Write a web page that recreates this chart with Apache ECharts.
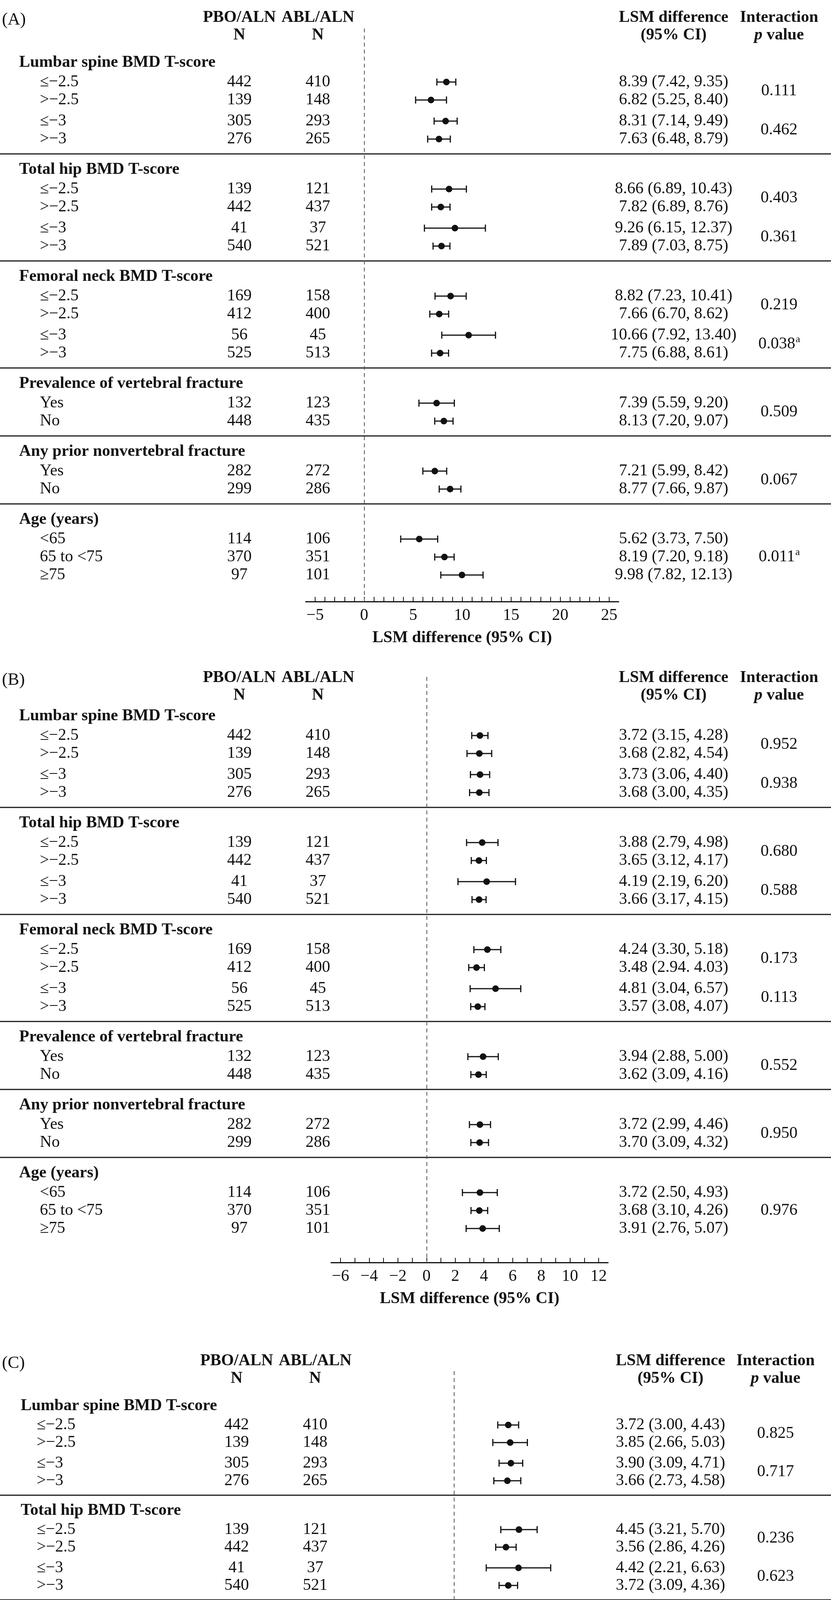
<!DOCTYPE html>
<html><head><meta charset="utf-8">
<script src="https://cdn.jsdelivr.net/npm/echarts@6.0.0/dist/echarts.min.js"></script>
<style>html,body{margin:0;padding:0;background:#fff;} #c{width:2128px;height:5125px;}</style>
</head><body><div id="c"></div>
<script>
// ---------------- DATA ----------------
const groups = ['Lumbar spine BMD T-score', 'Total hip BMD T-score', 'Femoral neck BMD T-score',
  'Prevalence of vertebral fracture', 'Any prior nonvertebral fracture', 'Age (years)'];
const subgroups = [
  ['≤−2.5', '>−2.5', '≤−3', '>−3'],
  ['≤−2.5', '>−2.5', '≤−3', '>−3'],
  ['≤−2.5', '>−2.5', '≤−3', '>−3'],
  ['Yes', 'No'],
  ['Yes', 'No'],
  ['<65', '65 to <75', '≥75']
];
const nPBO = [442, 139, 305, 276, 139, 442, 41, 540, 169, 412, 56, 525, 132, 448, 282, 299, 114, 370, 97];
const nABL = [410, 148, 293, 265, 121, 437, 37, 521, 158, 400, 45, 513, 123, 435, 272, 286, 106, 351, 101];

// Panel A
const estA = [8.39, 6.82, 8.31, 7.63, 8.66, 7.82, 9.26, 7.89, 8.82, 7.66, 10.66, 7.75, 7.39, 8.13, 7.21, 8.77, 5.62, 8.19, 9.98];
const loA  = [7.42, 5.25, 7.14, 6.48, 6.89, 6.89, 6.15, 7.03, 7.23, 6.70, 7.92, 6.88, 5.59, 7.20, 5.99, 7.66, 3.73, 7.20, 7.82];
const hiA  = [9.35, 8.40, 9.49, 8.79, 10.43, 8.76, 12.37, 8.75, 10.41, 8.62, 13.40, 8.61, 9.20, 9.07, 8.42, 9.87, 7.50, 9.18, 12.13];
const pA   = ['0.111', '0.462', '0.403', '0.361', '0.219', '0.038a', '0.509', '0.067', '0.011a'];
const ticksA = [-5, 0, 5, 10, 15, 20, 25];

// Panel B
const estB = [3.72, 3.68, 3.73, 3.68, 3.88, 3.65, 4.19, 3.66, 4.24, 3.48, 4.81, 3.57, 3.94, 3.62, 3.72, 3.70, 3.72, 3.68, 3.91];
const loB  = [3.15, 2.82, 3.06, 3.00, 2.79, 3.12, 2.19, 3.17, 3.30, 2.94, 3.04, 3.08, 2.88, 3.09, 2.99, 3.09, 2.50, 3.10, 2.76];
const hiB  = [4.28, 4.54, 4.40, 4.35, 4.98, 4.17, 6.20, 4.15, 5.18, 4.03, 6.57, 4.07, 5.00, 4.16, 4.46, 4.32, 4.93, 4.26, 5.07];
const pB   = ['0.952', '0.938', '0.680', '0.588', '0.173', '0.113', '0.552', '0.950', '0.976'];
const ticksB = [-6, -4, -2, 0, 2, 4, 6, 8, 10, 12];

// Panel C
const estC = [3.72, 3.85, 3.90, 3.66, 4.45, 3.56, 4.42, 3.72, 4.33, 3.58, 5.84, 3.55, 3.33, 3.90, 3.54, 4.00, 3.37, 3.96, 3.80];
const loC  = [3.00, 2.66, 3.09, 2.73, 3.21, 2.86, 2.21, 3.09, 3.19, 2.86, 3.56, 2.92, 1.92, 3.23, 2.64, 3.17, 1.92, 3.19, 2.39];
const hiC  = [4.43, 5.03, 4.71, 4.58, 5.70, 4.26, 6.63, 4.36, 5.47, 4.30, 8.13, 4.18, 4.74, 4.58, 4.43, 4.83, 4.82, 4.73, 5.21];
const pC   = ['0.825', '0.717', '0.236', '0.623', '0.361', '0.021a', '0.444', '0.459', '0.711'];
const ticksC = [-8, -6, -4, -2, 0, 2, 4, 6, 8, 10];

// printed CI strings that differ from the plain formatting (as printed in the figure)
const ciTextFixB = {9: '3.48 (2.94. 4.03)'};
const ciTextFixC = {12: '3.33 (1.92, 4.28)'};

// ---------------- STYLE / LAYOUT ----------------
const FONT = '"Liberation Serif","Times New Roman",Times,serif';
const FS = 42;
const INK = '#111';
const W = 2128;

const panels = [
  {tag: '(A)', est: estA, lo: loA, hi: hiA, p: pA, ticks: ticksA, fix: {},
   headerY: 45, n2g: 70, k: 1, axisGap: 68, dashOff: 28, tick0Px: 807, tick1Px: 1560,
   cols: {label: 49, row: 102, n1: 613, n2: 814, lsm: 1725, p: 1995}},
  {tag: '(B)', est: estB, lo: loB, hi: hiB, p: pB, ticks: ticksB, fix: ciTextFixB,
   headerY: 1735, n2g: 53, k: 1, axisGap: 87, dashOff: -2, tick0Px: 872, tick1Px: 1533,
   cols: {label: 49, row: 102, n1: 613, n2: 814, lsm: 1725, p: 1995}},
  {tag: '(C)', est: estC, lo: loC, hi: hiC, p: pC, ticks: ticksC, fix: ciTextFixC,
   headerY: 3484, n2g: 70, k: 0.978, axisGap: 126, dashOff: 26, tick0Px: 864, tick1Px: 1536,
   cols: {label: 53, row: 94, n1: 606, n2: 807, lsm: 1717, p: 1986}}
];

const mctx = document.createElement('canvas').getContext('2d');
function textW(str, size, weight) {
  mctx.font = (weight || 'normal') + ' ' + size + 'px ' + FONT;
  return mctx.measureText(str).width;
}
function txt(x, y, text, o) {
  o = o || {};
  const st = {
    text: text, fill: INK, fontFamily: FONT, fontSize: o.size || FS,
    fontWeight: o.weight || 'normal', fontStyle: o.fstyle || 'normal',
    textAlign: o.align || 'left', textVerticalAlign: 'middle',
    align: o.align || 'left', verticalAlign: 'middle'
  };
  if (o.rich) st.rich = o.rich;
  return {type: 'text', x: x, y: y, silent: true, z: 10, style: st};
}
function fmt(v) { return v.toFixed(2); }
function minus(v) { return v < 0 ? '−' + Math.abs(v) : String(v); }

function layout(P) {
  const k = P.k;
  let y = P.headerY + 45 + P.n2g;
  const rowY = [], grpY = [], sepY = [], pY = [];
  groups.forEach((g, gi) => {
    if (gi > 0) { y += 38 * k; sepY.push(y); y += 40 * k; }
    grpY.push(y);
    const n = subgroups[gi].length;
    const ys = [];
    for (let si = 0; si < n; si++) {
      y += (si === 0 ? 50 : (n === 4 && si === 2 ? 54 : 46)) * k;
      ys.push(y);
    }
    rowY.push(...ys);
    if (n === 4) pY.push((ys[0] + ys[1]) / 2, (ys[2] + ys[3]) / 2);
    else if (n === 2) pY.push((ys[0] + ys[1]) / 2);
    else pY.push(ys[Math.floor(n / 2)]);
  });
  return {rowY, grpY, sepY, pY, last: y};
}

const grids = [], xAxes = [], yAxes = [], series = [], graphics = [];

function renderCI(params, api) {
  const y = api.value(3);
  const a = api.coord([api.value(0), y]);
  const b = api.coord([api.value(1), y]);
  const ls = {stroke: INK, lineWidth: 3};
  return {type: 'group', children: [
    {type: 'line', shape: {x1: a[0], y1: a[1], x2: b[0], y2: b[1]}, style: ls},
    {type: 'line', shape: {x1: a[0], y1: a[1] - 9, x2: a[0], y2: a[1] + 9}, style: ls},
    {type: 'line', shape: {x1: b[0], y1: b[1] - 9, x2: b[0], y2: b[1] + 9}, style: ls}
  ]};
}

panels.forEach((P, pi) => {
  const L = layout(P);
  const c = P.cols;
  const gridTop = P.headerY + P.dashOff;
  const axisY = L.last + P.axisGap;
  const t0 = P.ticks[0], t1 = P.ticks[P.ticks.length - 1];
  const ppu = (P.tick1Px - P.tick0Px) / (t1 - t0);
  const padPx = 24;
  const minor = [];
  for (let v = t0; v <= t1; v += 1) minor.push(v);

  grids.push({left: P.tick0Px - padPx, width: P.tick1Px - P.tick0Px + 2 * padPx,
    top: gridTop, height: axisY - gridTop, containLabel: false, outerBoundsMode: 'none'});
  xAxes.push({
    type: 'value', gridIndex: pi, min: t0 - padPx / ppu, max: t1 + padPx / ppu,
    splitLine: {show: false},
    axisLine: {show: true, onZero: false, lineStyle: {color: INK, width: 3}},
    axisTick: {show: true, inside: true, length: 12, customValues: minor, lineStyle: {color: INK, width: 2}},
    axisLabel: {customValues: P.ticks, margin: 15, fontFamily: FONT, fontSize: FS, color: INK, formatter: minus},
    name: 'LSM difference (95% CI)', nameLocation: 'middle', nameGap: 93,
    nameTextStyle: {fontFamily: FONT, fontSize: FS, fontWeight: 'bold', color: INK, verticalAlign: 'middle'}
  });
  yAxes.push({type: 'value', gridIndex: pi, min: gridTop, max: axisY, inverse: true, show: false});

  const idx = L.rowY.map((_, j) => j);
  series.push({
    type: 'custom', xAxisIndex: pi, yAxisIndex: pi, renderItem: renderCI, clip: false, z: 3,
    encode: {x: [0, 1, 2], y: 3},
    data: idx.map(j => [P.lo[j], P.hi[j], P.est[j], L.rowY[j]])
  });
  series.push({
    type: 'scatter', xAxisIndex: pi, yAxisIndex: pi, symbol: 'circle', symbolSize: 17, z: 4,
    itemStyle: {color: INK, opacity: 1}, silent: true,
    data: idx.map(j => [P.est[j], L.rowY[j]]),
    markLine: {silent: true, symbol: ['none', 'none'], label: {show: false},
      lineStyle: {type: [10, 8], color: '#555', width: 2}, data: [{xAxis: 0}]}
  });

  // header texts
  const h = P.headerY, hn = P.headerY + 45;
  graphics.push(txt(5, h + 6, P.tag, {size: 44}));
  graphics.push(txt(c.n1, h, 'PBO/ALN', {weight: 'bold', align: 'center'}));
  graphics.push(txt(c.n2, h, 'ABL/ALN', {weight: 'bold', align: 'center'}));
  graphics.push(txt(c.n1, hn, 'N', {weight: 'bold', align: 'center'}));
  graphics.push(txt(c.n2, hn, 'N', {weight: 'bold', align: 'center'}));
  graphics.push(txt(c.lsm, h, 'LSM difference', {weight: 'bold', align: 'center'}));
  graphics.push(txt(c.lsm, hn, '(95% CI)', {weight: 'bold', align: 'center'}));
  graphics.push(txt(c.p, h, 'Interaction', {weight: 'bold', align: 'center'}));
  graphics.push(txt(c.p, hn, '{i|p} value', {weight: 'bold', align: 'center',
    rich: {i: {fontStyle: 'italic', fontWeight: 'bold', fontFamily: FONT, fontSize: FS, fill: INK}}}));

  // group headers + rows
  let j = 0;
  groups.forEach((g, gi) => {
    graphics.push(txt(c.label, L.grpY[gi], g, {weight: 'bold'}));
    subgroups[gi].forEach(s => {
      const y = L.rowY[j];
      graphics.push(txt(c.row, y, s));
      graphics.push(txt(c.n1, y, String(nPBO[j]), {align: 'center'}));
      graphics.push(txt(c.n2, y, String(nABL[j]), {align: 'center'}));
      const ci = P.fix[j] || (fmt(P.est[j]) + ' (' + fmt(P.lo[j]) + ', ' + fmt(P.hi[j]) + ')');
      graphics.push(txt(c.lsm, y, ci, {align: 'center'}));
      j++;
    });
  });
  // p values
  P.p.forEach((pv, q) => {
    const y = L.pY[q];
    if (pv.endsWith('a')) {
      const main = pv.slice(0, -1);
      const wm = textW(main, FS), wa = textW('a', 26);
      const cx = c.p - wa / 2;
      graphics.push(txt(cx, y, main, {align: 'center'}));
      graphics.push(txt(cx + wm / 2 + 1, y - 12, 'a', {size: 26}));
    } else {
      graphics.push(txt(c.p, y, pv, {align: 'center'}));
    }
  });
  // separators
  L.sepY.forEach(sy => {
    graphics.push({type: 'line', silent: true, z: 5, shape: {x1: 0, y1: sy, x2: W, y2: sy},
      style: {stroke: '#1a1a1a', lineWidth: 3}});
  });
});

const chart = echarts.init(document.getElementById('c'), null, {renderer: 'canvas', width: 2128, height: 5125});
chart.setOption({
  animation: false,
  backgroundColor: '#fff',
  grid: grids, xAxis: xAxes, yAxis: yAxes, series: series,
  graphic: {elements: graphics}
});
</script>
</body></html>
